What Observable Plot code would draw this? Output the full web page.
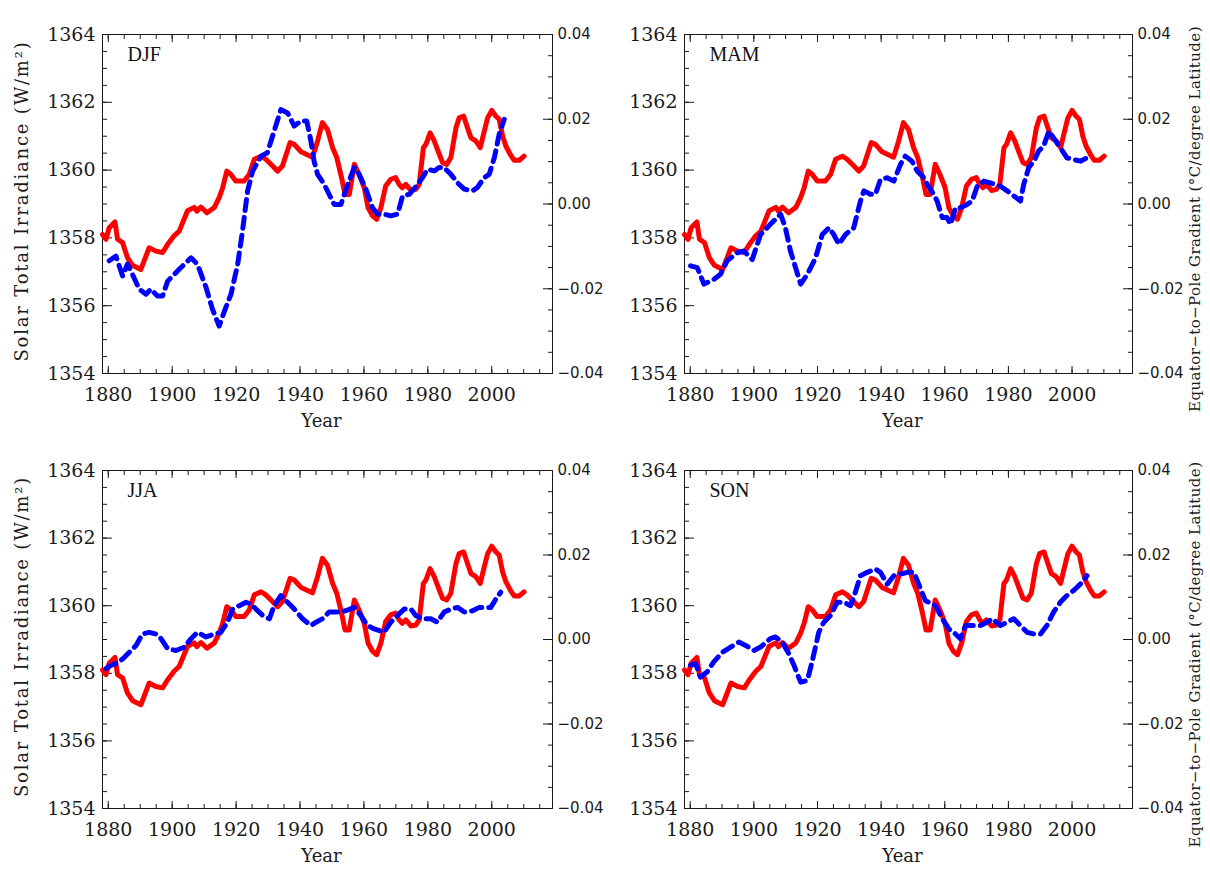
<!DOCTYPE html>
<html><head><meta charset="utf-8">
<script src="https://cdn.jsdelivr.net/npm/d3@7"></script>
<script src="https://cdn.jsdelivr.net/npm/@observablehq/plot@0.6"></script>
<style>
body{margin:0;background:#fff;}
#root{position:relative;width:1210px;height:869px;overflow:hidden;background:#fff;}
#root svg{position:absolute;}
</style></head><body><div id="root"></div>
<script>
// Solar total irradiance (W/m²), same in all four panels
const tsiYears = [1878.2,1879.3,1880.3,1882.1,1882.9,1884.5,1886,1887.6,1890.2,1892.8,1894.9,1897,1898.6,1900.6,1902.2,1904.8,1906.9,1907.7,1909,1910.9,1913.2,1914.7,1915.8,1917.1,1918.4,1919.9,1922.5,1924.1,1925.7,1927.8,1929.3,1930.9,1933,1934.5,1936.9,1938.2,1940.3,1943.9,1945.5,1947,1948.6,1950.2,1951.5,1953,1954.1,1955.4,1957,1958.5,1960.1,1961.3,1962.7,1964,1965.3,1966.8,1968.4,1969.9,1971,1972,1973.1,1974.7,1976.2,1977.3,1978.6,1979.4,1980.7,1982,1983.2,1984.6,1985.9,1987.2,1988.8,1989.8,1991.2,1992.4,1993.5,1995,1996.4,1997.4,1998.7,2000,2001.3,2002.3,2003.4,2004.4,2005.8,2007,2008.6,2010.1];
const tsiValues = [1358.1,1357.96,1358.3,1358.47,1357.96,1357.86,1357.42,1357.19,1357.07,1357.71,1357.61,1357.57,1357.81,1358.06,1358.2,1358.8,1358.9,1358.79,1358.91,1358.74,1358.9,1359.19,1359.48,1359.97,1359.87,1359.68,1359.68,1359.87,1360.32,1360.41,1360.32,1360.17,1359.97,1360.12,1360.81,1360.76,1360.54,1360.38,1360.86,1361.4,1361.2,1360.66,1360.37,1359.78,1359.28,1359.28,1360.17,1359.87,1359.48,1358.89,1358.65,1358.55,1358.89,1359.53,1359.73,1359.78,1359.58,1359.48,1359.58,1359.4,1359.43,1359.58,1360.66,1360.76,1361.1,1360.86,1360.56,1360.22,1360.17,1360.37,1361.25,1361.54,1361.59,1361.25,1360.95,1360.86,1360.66,1361.05,1361.54,1361.76,1361.59,1361.5,1361.0,1360.71,1360.46,1360.29,1360.29,1360.41];

// Equator-to-pole gradient (°C/degree latitude) per season
const djfYears = [1880.3,1882.4,1884.5,1886.0,1887.1,1889.7,1891.8,1893.3,1895.4,1897.0,1898.6,1902.2,1905.9,1907.9,1910.6,1912.6,1914.7,1916.8,1918.4,1920.5,1922.0,1923.6,1925.2,1927.8,1929.8,1931.9,1934.0,1936.1,1938.2,1940.3,1942.1,1943.4,1944.4,1945.5,1947.6,1949.1,1950.7,1952.8,1954.9,1957.0,1958.5,1960.6,1962.7,1964.3,1966.3,1968.4,1970.5,1972.1,1974.2,1976.8,1978.3,1979.9,1982.0,1983.5,1985.1,1987.2,1989.3,1991.4,1994.0,1995.5,1997.6,1999.2,2000.8,2002.3,2003.9];
const djfValues = [-0.0134,-0.0123,-0.0170,-0.0142,-0.0158,-0.0201,-0.0213,-0.0201,-0.0217,-0.0217,-0.0182,-0.0154,-0.0127,-0.0142,-0.0197,-0.0248,-0.0288,-0.0244,-0.0213,-0.0142,-0.0064,0.0031,0.0078,0.0113,0.0121,0.0172,0.0223,0.0215,0.0184,0.0196,0.0196,0.0149,0.0101,0.0070,0.0046,0.0023,-0.0001,-0.0001,0.0046,0.0086,0.0070,0.0035,-0.0009,-0.0024,-0.0024,-0.0028,-0.0024,0.0019,0.0023,0.0046,0.0062,0.0082,0.0078,0.0086,0.0086,0.0070,0.0050,0.0035,0.0031,0.0039,0.0062,0.0070,0.0109,0.0164,0.0200];

const mamYears = [1880.1,1882.2,1884.3,1887.4,1889.5,1891.6,1894.8,1896.9,1899.5,1902.1,1905.2,1908.4,1909.9,1911.5,1913.1,1914.7,1916.8,1919.4,1921.5,1923.6,1925.1,1926.7,1928.8,1931.4,1933.5,1934.6,1936.6,1938.2,1939.8,1941.9,1944.0,1946.1,1947.6,1949.7,1951.3,1953.4,1954.5,1956.5,1957.6,1959.2,1960.7,1961.8,1963.4,1964.9,1967.0,1968.6,1970.2,1972.3,1974.3,1975.9,1977.5,1979.6,1981.7,1983.8,1984.8,1986.4,1988.0,1989.5,1991.1,1992.7,1994.2,1996.3,1998.4,2000.5,2002.6,2004.7];
const mamValues = [-0.0146,-0.0150,-0.0189,-0.0178,-0.0166,-0.0134,-0.0115,-0.0111,-0.0131,-0.0072,-0.0048,-0.0024,-0.0056,-0.0111,-0.0150,-0.0189,-0.0166,-0.0127,-0.0072,-0.0056,-0.0072,-0.0095,-0.0072,-0.0056,0.0007,0.0031,0.0023,0.0023,0.0058,0.0062,0.0054,0.0094,0.0113,0.0101,0.0078,0.0062,0.0046,0.0023,0.0007,-0.0032,-0.0032,-0.0048,-0.0009,-0.0009,-0.0001,0.0007,0.0042,0.0054,0.0050,0.0046,0.0042,0.0031,0.0019,0.0007,0.0046,0.0086,0.0101,0.0125,0.0137,0.0172,0.0156,0.0133,0.0109,0.0105,0.0101,0.0109];

const jjaYears = [1879.3,1880.8,1882.4,1884.5,1886.6,1888.7,1890.7,1892.8,1894.9,1896.5,1898.6,1901.2,1903.8,1905.9,1907.9,1910.6,1913.2,1915.2,1917.3,1918.9,1921.0,1923.1,1924.6,1926.2,1928.3,1930.4,1931.9,1934.0,1936.1,1938.2,1940.8,1943.4,1945.0,1947.0,1949.1,1951.7,1954.3,1957.0,1959.0,1961.1,1963.2,1966.3,1968.4,1970.5,1972.6,1974.7,1976.2,1978.3,1980.9,1983.0,1985.1,1987.2,1989.3,1991.4,1994.0,1996.1,1998.1,1999.7,2001.3,2002.8];
const jjaValues = [-0.0069,-0.0061,-0.0057,-0.0046,-0.0030,-0.0014,0.0013,0.0017,0.0013,0.0002,-0.0022,-0.0026,-0.0018,0.0002,0.0017,0.0006,0.0013,0.0017,0.0041,0.0072,0.0080,0.0088,0.0084,0.0072,0.0057,0.0049,0.0080,0.0104,0.0088,0.0072,0.0049,0.0033,0.0041,0.0049,0.0065,0.0065,0.0068,0.0076,0.0057,0.0033,0.0025,0.0017,0.0041,0.0057,0.0072,0.0072,0.0057,0.0049,0.0049,0.0041,0.0065,0.0072,0.0076,0.0065,0.0068,0.0076,0.0076,0.0076,0.0096,0.0112];

const sonYears = [1880.1,1881.7,1883.2,1885.3,1887.4,1890.1,1892.7,1895.3,1897.4,1900.0,1902.1,1905.2,1906.8,1908.9,1911.0,1912.6,1914.7,1916.8,1918.3,1920.4,1922.0,1924.1,1926.2,1928.3,1930.4,1931.9,1933.5,1935.6,1938.2,1939.8,1941.9,1944.0,1946.1,1948.2,1950.3,1952.4,1953.9,1955.0,1957.1,1959.2,1961.3,1962.8,1964.9,1966.5,1968.6,1971.2,1973.3,1974.9,1977.5,1979.6,1981.7,1983.8,1985.9,1988.0,1990.1,1992.1,1994.2,1996.3,1998.4,2000.5,2002.6,2004.7];
const sonValues = [-0.0061,-0.0057,-0.0089,-0.0077,-0.0053,-0.0030,-0.0018,-0.0006,-0.0014,-0.0026,-0.0018,0.0002,0.0006,-0.0006,-0.0034,-0.0061,-0.0101,-0.0097,-0.0053,0.0017,0.0041,0.0057,0.0088,0.0088,0.0080,0.0112,0.0151,0.0159,0.0167,0.0159,0.0131,0.0151,0.0155,0.0159,0.0159,0.0120,0.0092,0.0088,0.0080,0.0049,0.0025,0.0017,0.0002,0.0033,0.0033,0.0033,0.0041,0.0049,0.0033,0.0041,0.0049,0.0033,0.0017,0.0013,0.0013,0.0033,0.0065,0.0088,0.0104,0.0116,0.0131,0.0151];

const seasonNames = ["DJF","MAM","JJA","SON"];
const yearTicks = [1880,1900,1920,1940,1960,1980,2000];
const tsiTicks = [1354,1356,1358,1360,1362,1364];
const gradTicks = [-0.04,-0.02,0.00,0.02,0.04];
const leftTitle = "Solar Total Irradiance (W/m²)";
const rightTitle = "Equator\u2212to\u2212Pole Gradient (°C/degree Latitude)";
const xTitle = "Year";

// right axis (gradient) shares the frame with the left axis: -0.04..0.04 <-> 1354..1364
const toTsi = g => 1359 + 125 * g;
const tsiData = tsiYears.map((y, i) => ({year: y, value: tsiValues[i]}));
const mk = (ys, vs) => ys.map((y, i) => ({year: y, value: vs[i]})).filter(d => d.value !== undefined);
const gradSeries = [mk(djfYears, djfValues), mk(mamYears, mamValues), mk(jjaYears, jjaValues), mk(sonYears, sonValues)];

const minorYears = d3.range(1880, 2019, 5);
const minorTsi = d3.range(1354, 1364.001, 0.5);
const minorGrad = d3.range(-40, 41, 5).map(v => toTsi(v / 1000));
const blank = () => "";
const gradFmt = v => { const t = Math.round((v - 1359) / 125 * 100) / 100; return (t < 0 ? "\u2212" : "") + Math.abs(t).toFixed(2); };

const layouts = [
  {left: 0,   top: 0,   height: 434, mL: 102, mR: 53, mT: 34, mB: 61, leftLab: true,  rightLab: false},
  {left: 605, top: 0,   height: 434, mL: 79,  mR: 78, mT: 34, mB: 61, leftLab: false, rightLab: true},
  {left: 0,   top: 434, height: 435, mL: 102, mR: 53, mT: 36, mB: 61, leftLab: true,  rightLab: false},
  {left: 605, top: 434, height: 435, mL: 79,  mR: 78, mT: 36, mB: 61, leftLab: false, rightLab: true}
];

const root = document.getElementById("root");
const ink = "#1a1a1a";

layouts.forEach((L, i) => {
  const marks = [
    Plot.frame({stroke: ink, strokeWidth: 1}),
    // left axis
    Plot.axisY(minorTsi, {anchor: "left", tickSize: -5, tickFormat: blank, label: null, stroke: ink}),
    Plot.axisY(tsiTicks, {anchor: "left", tickSize: -10, tickFormat: blank, label: null, stroke: ink}),
    Plot.axisY(tsiTicks, {anchor: "left", tickSize: 0, tickPadding: 7, tickFormat: "d", label: null, fontSize: 19, fill: ink}),
    // right axis
    Plot.axisY(minorGrad, {anchor: "right", tickSize: -5, tickFormat: blank, label: null, stroke: ink}),
    Plot.axisY(gradTicks.map(toTsi), {anchor: "right", tickSize: -10, tickFormat: blank, label: null, stroke: ink}),
    Plot.axisY(gradTicks.map(toTsi), {anchor: "right", tickSize: 0, tickPadding: 5, tickFormat: gradFmt, label: null, fontSize: 15, fontFamily: "DejaVu Sans", fill: ink}),
    // x axes (bottom and mirrored top)
    Plot.axisX(minorYears, {anchor: "bottom", tickSize: -4, tickFormat: blank, label: null, stroke: ink}),
    Plot.axisX(yearTicks, {anchor: "bottom", tickSize: -7, tickFormat: blank, label: null, stroke: ink}),
    Plot.axisX(yearTicks, {anchor: "bottom", tickSize: 0, tickPadding: 14, tickFormat: "d", label: null, fontSize: 19, fill: ink}),
    Plot.axisX(minorYears, {anchor: "top", tickSize: -4, tickFormat: blank, label: null, stroke: ink}),
    Plot.axisX(yearTicks, {anchor: "top", tickSize: -7, tickFormat: blank, label: null, stroke: ink}),
    // data
    Plot.line(tsiData, {x: "year", y: "value", stroke: "#ff0000", strokeWidth: 5, strokeLinejoin: "round"}),
    Plot.line(gradSeries[i], {x: "year", y: d => toTsi(d.value), stroke: "#0000ff", strokeWidth: 5, strokeDasharray: "11,7"}),
    // texts
    Plot.text([seasonNames[i]], {text: d => d, frameAnchor: "top-left", dx: 25, dy: 20, textAnchor: "start", lineAnchor: "middle", fontSize: 20, fontFamily: "Liberation Serif", fill: "#111"}),
    Plot.text([xTitle], {text: d => d, frameAnchor: "bottom", dx: -6, dy: 48, lineAnchor: "middle", fontSize: 18, fill: ink})
  ];
  if (L.leftLab) marks.push(Plot.text([leftTitle], {text: d => d, frameAnchor: "left", dx: -80, dy: -3, rotate: -90, textAnchor: "middle", lineAnchor: "middle", fontSize: 18, fill: ink}));
  if (L.rightLab) marks.push(Plot.text([rightTitle], {text: d => d, frameAnchor: "right", dx: 63, dy: 15, rotate: -90, textAnchor: "middle", lineAnchor: "middle", fontSize: 15, fill: ink}));

  const svg = Plot.plot({
    width: 605,
    height: L.height,
    marginLeft: L.mL, marginRight: L.mR, marginTop: L.mT, marginBottom: L.mB,
    x: {domain: [1878.2, 2019]},
    y: {domain: [1354, 1364]},
    style: {fontFamily: "DejaVu Serif", fontSize: "19px", background: "transparent", overflow: "visible", color: ink},
    marks
  });
  svg.style.left = L.left + "px";
  svg.style.top = L.top + "px";
  d3.select(svg).selectAll("text").each(function() {
    const t = this.textContent;
    if (t === leftTitle) this.setAttribute("letter-spacing", "1.8");
    if (t === rightTitle) this.setAttribute("letter-spacing", "0.4");
  });
  root.appendChild(svg);
});
</script>
</body></html>
